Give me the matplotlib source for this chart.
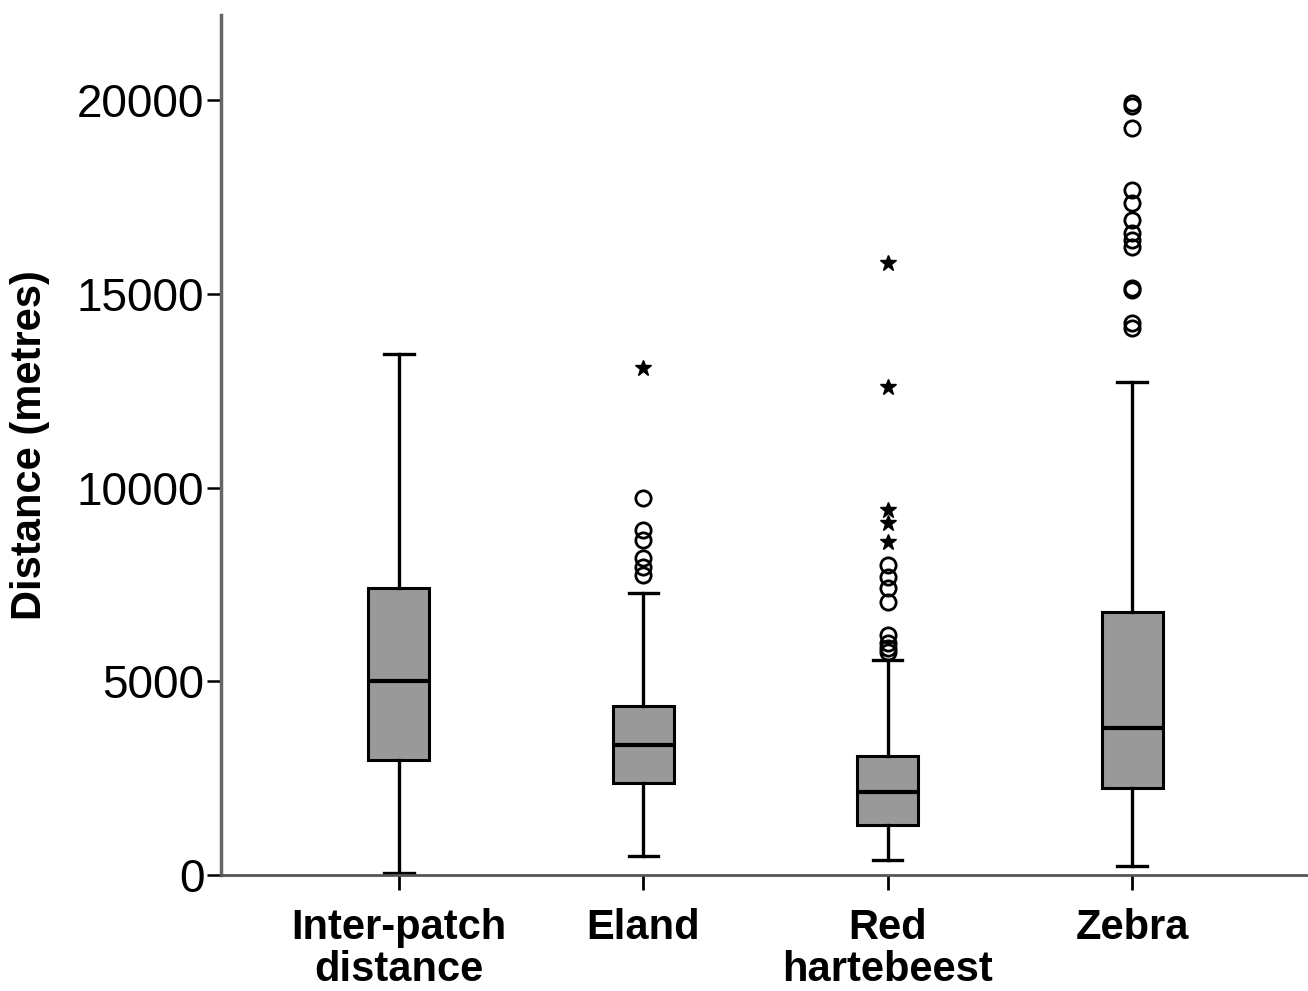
import numpy as np
import matplotlib
matplotlib.use('Agg')
import matplotlib.pyplot as plt

#
# Box statistics (metres)
#
labels   = ['Inter-patch\ndistance', 'Eland', 'Red\nhartebeest', 'Zebra']
whislo   = [50, 490, 390, 230]
q1       = [2970, 2375, 1290, 2245]
med      = [5005, 3355, 2140, 3795]
q3       = [7405, 4360, 3070, 6785]
whishi   = [13440, 7280, 5550, 12720]
#
# Outliers: circles (mild) and stars (extreme)
#
circles  = [[],
            [9720, 8900, 8650, 8180, 7950, 7750],
            [8000, 7690, 7400, 7050, 6190, 6000, 5850, 5760],
            [19920, 19850, 19270, 17680, 17340, 16900, 16570, 16390, 16210,
             15150, 15100, 14250, 14110]]
stars    = [[], [13080], [15800, 12590, 9420, 9080, 8590], []]

plt.rcParams['font.family'] = ['Liberation Sans', 'DejaVu Sans']

fig = plt.figure(figsize=(13.08, 9.91), dpi=100)
ax  = fig.add_axes([0.169, 0.117, 0.831, 0.868])

stats = []
for i in range(len(labels)):
    stats.append(dict(whislo=whislo[i], q1=q1[i], med=med[i], q3=q3[i],
                      whishi=whishi[i], fliers=circles[i], label=labels[i]))

pos = np.arange(1, len(labels)+1)
ax.bxp(stats, positions=pos, widths=0.25, patch_artist=True,
       boxprops=dict(facecolor='#999999', edgecolor='black', linewidth=2.2),
       medianprops=dict(color='black', linewidth=3),
       whiskerprops=dict(color='black', linewidth=2.4),
       capprops=dict(color='black', linewidth=2.4),
       capwidths=0.12,
       flierprops=dict(marker='o', markersize=11, markerfacecolor='none',
                       markeredgecolor='black', markeredgewidth=2))

for i in range(len(labels)):
    if stars[i]:
        ax.plot([pos[i]]*len(stars[i]), stars[i], linestyle='none', marker='*',
                markersize=12, color='black')

ax.set_xlim(0.272, 4.72)
ax.set_ylim(0, 22200)
ax.set_yticks([0, 5000, 10000, 15000, 20000])
ax.set_ylabel('Distance (metres)', fontsize=30, fontweight='bold')
ax.yaxis.set_label_coords(-0.157, 0.5)
ax.tick_params(axis='y', labelsize=33, length=10, width=1.8, pad=2,
               direction='out', color='black')
ax.tick_params(axis='x', labelsize=30, length=11, width=2, pad=13,
               color='black')
for t in ax.get_xticklabels():
    t.set_fontweight('bold')
    t.set_linespacing(1.05)

ax.spines['top'].set_visible(False)
ax.spines['right'].set_visible(False)
ax.spines['left'].set_linewidth(2.5)
ax.spines['left'].set_color('#666666')
ax.spines['bottom'].set_linewidth(2)
ax.spines['bottom'].set_color('#555555')

fig.savefig('out.png', dpi=100)
